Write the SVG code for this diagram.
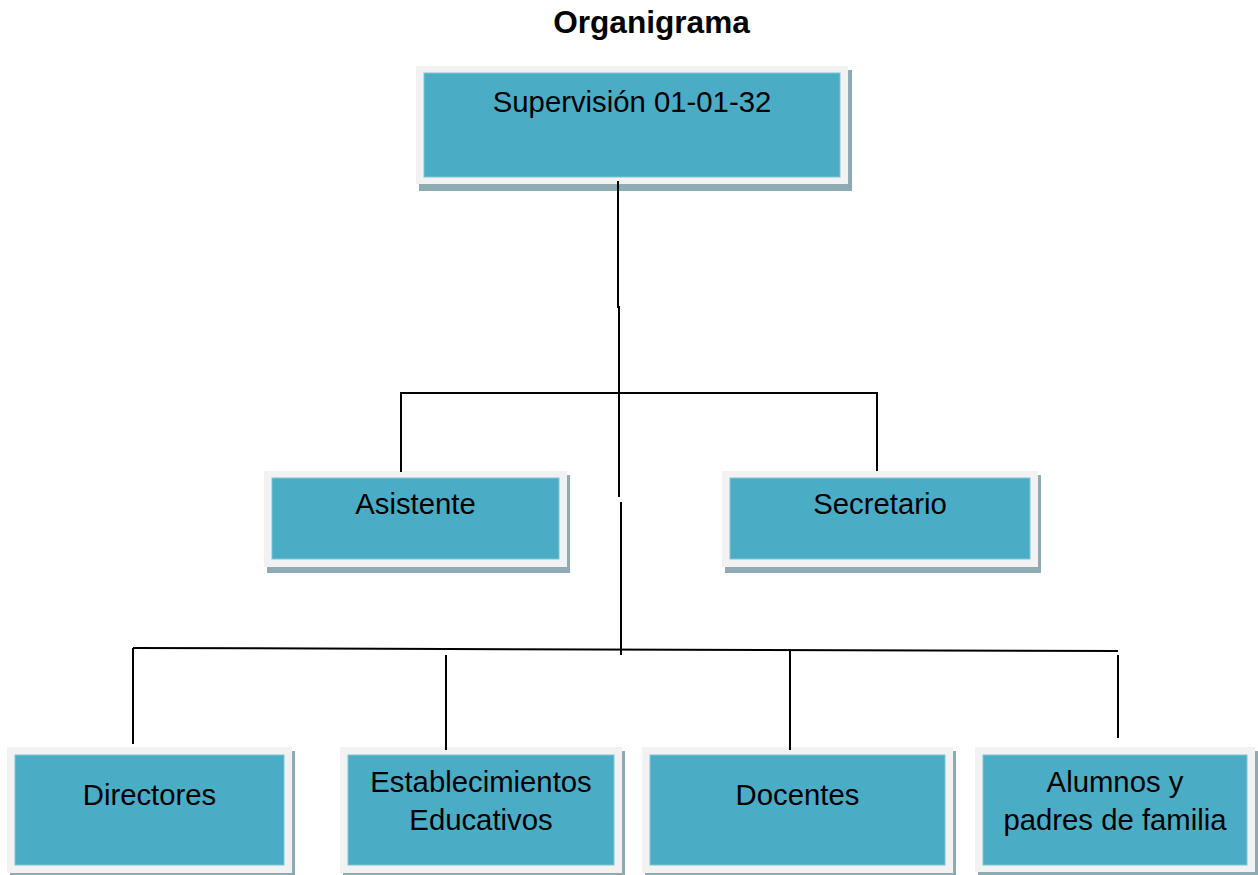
<svg xmlns="http://www.w3.org/2000/svg" width="1258" height="875" viewBox="0 0 1258 875">
<style>
.sh{fill:#8eaab3}
.out{fill:#f2f2f2}
.in{fill:#4bacc6;stroke:#7fc3d6;stroke-width:1}
.t{font-family:"Liberation Sans",Arial,sans-serif;font-size:29.3px;fill:#000;text-anchor:middle}
.ln{stroke:#000;stroke-width:2;fill:none}
</style>
<rect width="1258" height="875" fill="#fff"/>
<text x="651.5" y="33" font-family="Liberation Sans,Arial,sans-serif" font-size="31.6" font-weight="bold" text-anchor="middle">Organigrama</text>
<g id="supervision">
<rect class="sh" x="419" y="70" width="433" height="121"/>
<rect class="out" x="416" y="66" width="432" height="118"/>
<rect class="in" x="424" y="73" width="416" height="104"/>
<text class="t" x="632" y="112">Supervisión 01-01-32</text>
</g>
<g id="asistente">
<rect class="sh" x="267" y="475" width="303" height="98"/>
<rect class="out" x="264" y="471" width="303" height="96"/>
<rect class="in" x="272" y="478" width="287" height="81"/>
<text class="t" x="415.5" y="514">Asistente</text>
</g>
<g id="secretario">
<rect class="sh" x="725" y="475" width="316" height="98"/>
<rect class="out" x="722" y="471" width="316" height="96"/>
<rect class="in" x="730" y="478" width="300" height="81"/>
<text class="t" x="880" y="514">Secretario</text>
</g>
<g id="directores">
<rect class="sh" x="10" y="751" width="285" height="126"/>
<rect class="out" x="7" y="747" width="285" height="126"/>
<rect class="in" x="15" y="755" width="269" height="110"/>
<text class="t" x="149.5" y="805">Directores</text>
</g>
<g id="establecimientos">
<rect class="sh" x="343" y="751" width="282" height="126"/>
<rect class="out" x="340" y="747" width="282" height="126"/>
<rect class="in" x="348" y="755" width="266" height="110"/>
<text class="t" x="481" y="792">Establecimientos</text>
<text class="t" x="481" y="830">Educativos</text>
</g>
<g id="docentes">
<rect class="sh" x="645" y="751" width="311" height="126"/>
<rect class="out" x="642" y="747" width="311" height="126"/>
<rect class="in" x="650" y="755" width="295" height="110"/>
<text class="t" x="797.5" y="805">Docentes</text>
</g>
<g id="alumnos">
<rect class="sh" x="978" y="751" width="280" height="126"/>
<rect class="out" x="975" y="747" width="280" height="125"/>
<rect class="in" x="983" y="755" width="264" height="110"/>
<text class="t" x="1115" y="792">Alumnos y</text>
<text class="t" x="1115" y="830">padres de familia</text>
</g>
<g id="connectors">
<polyline class="ln" points="618,181 618,307 619,307 619,497"/>
<line class="ln" x1="621" y1="502" x2="621" y2="655"/>
<polyline class="ln" points="401,472 401,393 877,393 877,471"/>
<line class="ln" x1="133" y1="648" x2="1118" y2="651"/>
<line class="ln" x1="133" y1="648" x2="133" y2="744"/>
<line class="ln" x1="446" y1="655" x2="446" y2="750"/>
<line class="ln" x1="790" y1="650" x2="790" y2="750"/>
<line class="ln" x1="1118" y1="655" x2="1118" y2="738"/>
</g>
</svg>
